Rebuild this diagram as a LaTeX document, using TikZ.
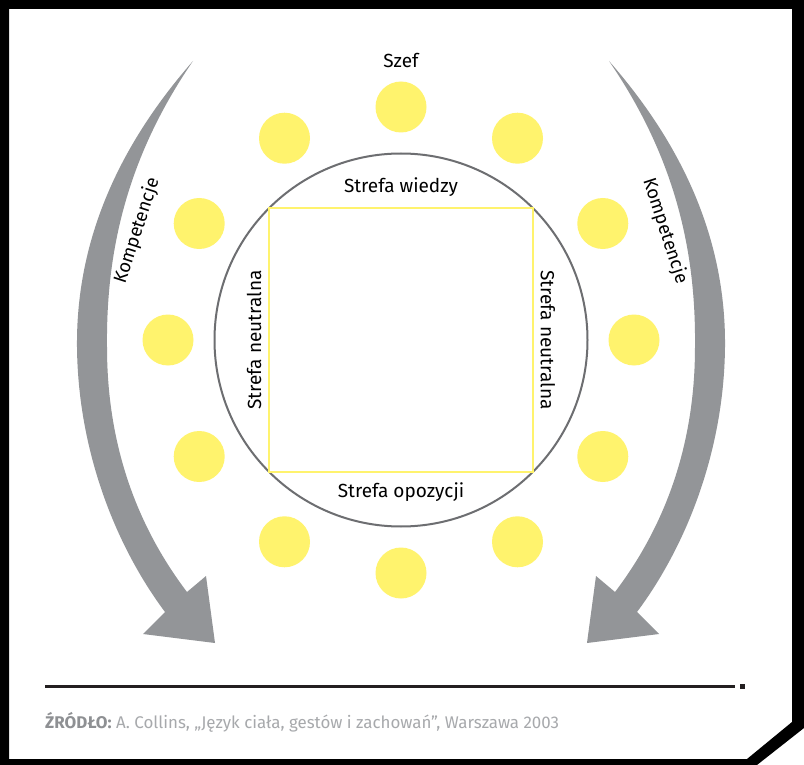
\documentclass[tikz,border=0pt]{standalone}
\usepackage{fontspec}
\setmainfont{Fira Sans}
\definecolor{arrowgray}{HTML}{939598}
\definecolor{ringgray}{HTML}{6D6E71}
\definecolor{seatyellow}{HTML}{FFF36D}
\definecolor{squareyellow}{HTML}{FFF36D}
\definecolor{notegray}{HTML}{A7A9AC}
\definecolor{notebold}{HTML}{8E9093}
\definecolor{rulecol}{HTML}{231F20}
\begin{document}
\begin{tikzpicture}[x=1pt,y=-1pt,
  seat/.style={circle,fill=seatyellow,minimum size=51pt,inner sep=0pt},
  zonelabel/.style={font=\fontsize{19}{22}\selectfont,inner sep=0pt,text=black},
  complabel/.style={font=\fontsize{18.5}{21}\selectfont,inner sep=0pt,text=black},
  bigarrow/.pic={
    \fill[arrowgray]
      (193,61) .. controls (115,150) and (76,245) .. (77,347)
      .. controls (78,450) and (115,545) .. (165,612)
      -- (143,634) -- (215,643) -- (206,576) -- (187,592)
      .. controls (140,530) and (107,450) .. (107,347)
      .. controls (106,255) and (125,160) .. (193,61) -- cycle;
  }]
\useasboundingbox (0,0) rectangle (804,765);
\fill[white] (0,0) rectangle (804,765);

% outer frame with the cut corner
\fill[black,even odd rule]
  (0,0) -- (804,0) -- (804,728) -- (757,765) -- (0,765) -- cycle
  (9,9) -- (792,9) -- (792,722) -- (747,759) -- (9,759) -- cycle;

% the two curved arrows
\pic at (0,0) {bigarrow};
\pic[xscale=-1] at (802,0) {bigarrow};

% central table and knowledge square
\node[circle,draw=ringgray,line width=2pt,minimum size=373pt,inner sep=0pt] (table) at (401,340) {};
\node[draw=squareyellow,line width=1.6pt,minimum size=264pt,inner sep=0pt] (square) at (401,340) {};

% seats around the table
\foreach \a [count=\i] in {90,120,...,420}
  \node[seat] (seat\i) at ({401+233*cos(\a)},{340-233*sin(\a)}) {};

% labels
\node[zonelabel] (boss) at (401,60) {Szef};
\node[zonelabel] (know) at (401,187) {Strefa wiedzy};
\node[zonelabel] (opp) at (401,492) {Strefa opozycji};
\node[zonelabel,rotate=90] (neutl) at (254,340) {Strefa neutralna};
\node[zonelabel,rotate=-90] (neutr) at (548,340) {Strefa neutralna};
\node[complabel,rotate=72] (compl) at (137,231) {Kompetencje};
\node[complabel,rotate=-72] (compr) at (665,231) {Kompetencje};

% footer rule and source note
\coordinate (rulea) at (45,686);
\coordinate (ruleb) at (735,686);
\draw[rulecol,line width=3pt] (rulea) -- (ruleb);
\node[fill=rulecol,minimum size=5pt,inner sep=0pt] (ruledot) at (742,686) {};
\node[anchor=base west,inner sep=0pt,text=notegray,font=\fontsize{16.9}{19}\selectfont] (source) at (45,728)
  {{\bfseries\color{notebold}ŹRÓDŁO:} A. Collins, „Język ciała, gestów i zachowań”, Warszawa 2003};
\end{tikzpicture}
\end{document}
